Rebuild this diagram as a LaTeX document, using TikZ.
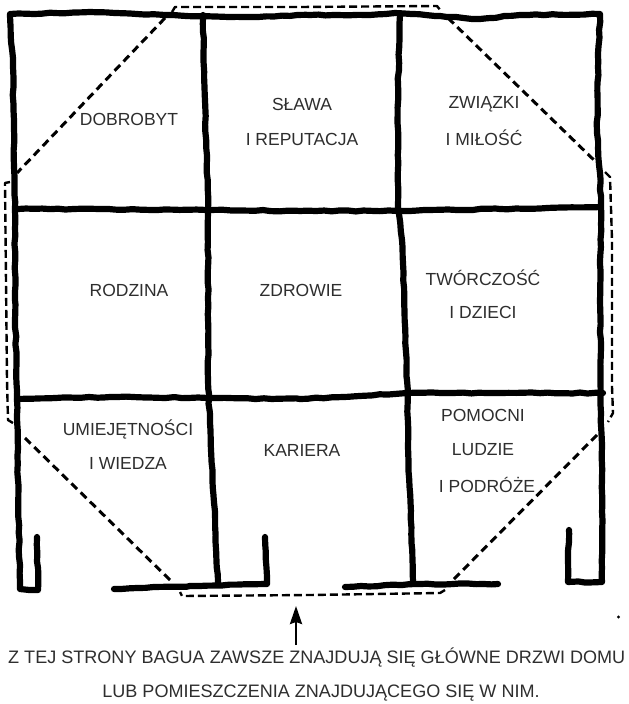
\documentclass[tikz,border=0pt]{standalone}
\usepackage{fontspec}
\setmainfont{Liberation Sans}
\usetikzlibrary{decorations.pathmorphing,arrows.meta}
\tikzset{
  wallline/.style={line width=6.2pt,line join=round,line cap=round,black,decorate,decoration={random steps,segment length=8pt,amplitude=0.6pt}},
  dashdiag/.style={line width=3pt,black,dash pattern=on 8pt off 5pt},
  dashouter/.style={line width=2.4pt,black,dash pattern=on 8pt off 4pt,line join=round},
  lbl/.style={font=\fontsize{17.5}{20}\selectfont,text=black!82,inner sep=0pt,anchor=center},
  capline/.style={font=\fontsize{18.05}{20}\selectfont,text=black!82,inner sep=0pt,anchor=center}
}
\begin{document}
\begin{tikzpicture}[x=1pt,y=-1pt]
\pgfmathsetseed{42}
\useasboundingbox (0,0) rectangle (629,704);
\fill[white] (0,0) rectangle (629,704);
% outer walls
\draw[wallline] (37,537) -- (38,590) -- (20,589) -- (18,480) -- (17,400) -- (15,300) -- (15,210) -- (14,167) -- (13,67) -- (10,14) -- (90,12) -- (165,15) -- (250,17) -- (310,15) -- (370,15) -- (395,13) -- (440,16) -- (480,19) -- (520,15) -- (600,14) -- (598,67) -- (597,133) -- (600,173) -- (601,207) -- (600,300) -- (601,413) -- (602,480) -- (602,582) -- (568,582) -- (569,530);
% cross walls
\draw[wallline] (18,209) -- (100,209) -- (207,210) -- (300,211) -- (400,211) -- (500,209) -- (600,207);
\draw[wallline] (17,399) -- (110,397) -- (208,398) -- (300,399) -- (407,393) -- (500,393) -- (603,393);
\draw[wallline] (203,15) -- (205,100) -- (208,210) -- (208,380) -- (210,423) -- (218,583);
\draw[wallline] (400,15) -- (398,83) -- (398,207) -- (402,240) -- (407,380) -- (408,447) -- (413,582);
\draw[wallline] (114,589) -- (190,586) -- (267,584) -- (265,537);
\draw[wallline] (345,587) -- (420,584) -- (498,584);
% dashed bagua outline
\draw[dashdiag] (165,18) -- (17,173);
\draw[dashdiag] (448,18) -- (597,163);
\draw[dashdiag] (597,435) -- (453,580);
\draw[dashdiag] (170,580) -- (25,438);
\draw[dashouter] (172,12) -- (175,7) -- (300,7) -- (437,6) -- (441,11);
\draw[dashouter] (605,172) -- (610,177) -- (612,240) -- (612,387) -- (613,413) -- (608,422);
\draw[dashouter] (445,590) -- (440,593) -- (310,595) -- (182,596) -- (180,592);
\draw[dashouter] (13,423) -- (8,420) -- (7,380) -- (5,183) -- (10,182);
% labels
\node[lbl] (dobrobyt) at (129,119) {DOBROBYT};
\node[lbl] (slawa) at (302,104) {SŁAWA};
\node[lbl] (reputacja) at (302,139) {I REPUTACJA};
\node[lbl] (zwiazki) at (484,104) {ZWIĄZKI};
\node[lbl] (milosc) at (484,138) {I MIŁOŚĆ};
\node[lbl] (rodzina) at (129,290) {RODZINA};
\node[lbl] (zdrowie) at (301,290) {ZDROWIE};
\node[lbl] (tworczosc) at (483,278) {TWÓRCZOŚĆ};
\node[lbl] (dzieci) at (483,312) {I DZIECI};
\node[lbl] (umiej) at (128,429) {UMIEJĘTNOŚCI};
\node[lbl] (wiedza) at (128,463) {I WIEDZA};
\node[lbl] (kariera) at (302,450) {KARIERA};
\node[lbl] (pomocni) at (483,415) {POMOCNI};
\node[lbl] (ludzie) at (483,450) {LUDZIE};
\node[lbl] (podroze) at (487,485) {I PODRÓŻE};
\node[capline,anchor=west] (cap1) at (8,658) {Z TEJ STRONY BAGUA ZAWSZE ZNAJDUJĄ SIĘ GŁÓWNE DRZWI DOMU};
\node[capline] (cap2) at (321,693) {LUB POMIESZCZENIA ZNAJDUJĄCEGO SIĘ W NIM.};
% arrow to the entrance
\coordinate (arrowstart) at (296,645);
\coordinate (arrowend) at (296,606);
\draw[line width=2.6pt,-{Stealth[length=18pt,width=12pt,inset=2pt]}] (arrowstart) -- (arrowend);
\fill (618.5,617) circle (1.6pt);
\end{tikzpicture}
\end{document}
